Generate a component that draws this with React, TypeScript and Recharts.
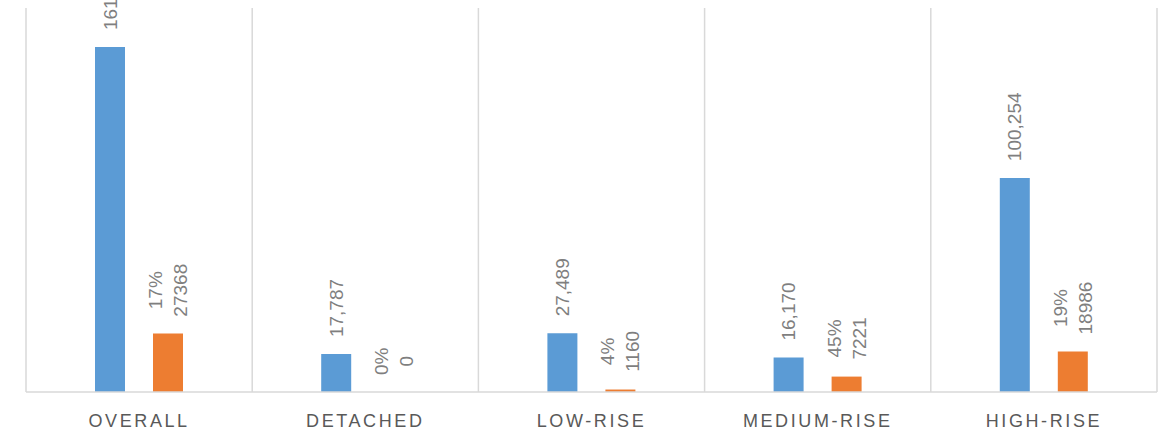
import React from "react";
import { BarChart, Bar, XAxis, YAxis, CartesianGrid, LabelList } from "recharts";

const categories = ["OVERALL", "DETACHED", "LOW-RISE", "MEDIUM-RISE", "HIGH-RISE"];
const totalUnits = [161700, 17787, 27489, 16170, 100254];
const affectedUnits = [27368, 0, 1160, 7221, 18986];
const affectedPct = ["17%", "0%", "4%", "45%", "19%"];

const data = categories.map((c, i) => ({
  name: c,
  total: totalUnits[i],
  affected: affectedUnits[i],
  pct: affectedPct[i],
}));

const FS = 19;
const charW = (ch: string) => {
  if (ch === ",") return 0.278;
  if (ch === "%") return 0.889;
  return 0.556;
};
const textW = (s: string) => s.split("").reduce((a, c) => a + charW(c), 0) * FS;

const makeLabel = (getLines: (i: number) => string[]) => (props: any) => {
  const { x, y, width, value } = props;
  const i = categories.indexOf(value);
  if (i < 0) return null;
  const lines = getLines(i);
  const maxW = Math.max(...lines.map(textW));
  const cx = x + width / 2;
  const cy = y - 17 - maxW / 2;
  const lh = 25;
  const n = lines.length;
  return (
    <g transform={`translate(${cx},${cy}) rotate(-90)`}>
      {lines.map((l, k) => (
        <text
          key={k}
          x={0}
          y={(k - (n - 1) / 2) * lh}
          textAnchor="middle"
          dominantBaseline="central"
          fontSize={FS}
          fontFamily="Liberation Sans, Arial, sans-serif"
          fill="#7f7f7f"
        >
          {l}
        </text>
      ))}
    </g>
  );
};

const blueLabel = makeLabel((i) => [totalUnits[i].toLocaleString("en-US")]);
const orangeLabel = makeLabel((i) => [affectedPct[i], String(affectedUnits[i])]);

const CatTick = (props: any) => {
  const { x, y, payload } = props;
  return (
    <text
      x={x}
      y={y + 27}
      textAnchor="middle"
      fontSize={18}
      letterSpacing={2.6}
      fontFamily="Liberation Sans, Arial, sans-serif"
      fill="#595959"
    >
      {payload.value}
    </text>
  );
};

export default function App() {
  return (
    <div style={{ position: "absolute", left: 0, top: 0, background: "#fff" }}>
      <BarChart
        width={1173}
        height={432}
        data={data}
        margin={{ top: 8, right: 16, left: 26, bottom: 0 }}
        barSize={30}
        barGap={28}
        barCategoryGap={0}
      >
        <CartesianGrid
          horizontal={false}
          stroke="#d9d9d9"
          strokeWidth={1.5}
          verticalCoordinatesGenerator={({ offset }: any) =>
            categories.map((_, i) => offset.left + (i * offset.width) / categories.length).concat([offset.left + offset.width])
          }
        />
        <XAxis
          dataKey="name"
          height={40}
          axisLine={{ stroke: "#d9d9d9", strokeWidth: 1.5 }}
          tickLine={false}
          tick={<CatTick />}
          interval={0}
        />
        <YAxis hide domain={[0, 180000]} />
        <Bar dataKey="total" fill="#5B9BD5" isAnimationActive={false}>
          <LabelList dataKey="name" content={blueLabel} />
        </Bar>
        <Bar dataKey="affected" fill="#ED7D31" minPointSize={0.01} isAnimationActive={false}>
          <LabelList dataKey="name" content={orangeLabel} />
        </Bar>
      </BarChart>
    </div>
  );
}
